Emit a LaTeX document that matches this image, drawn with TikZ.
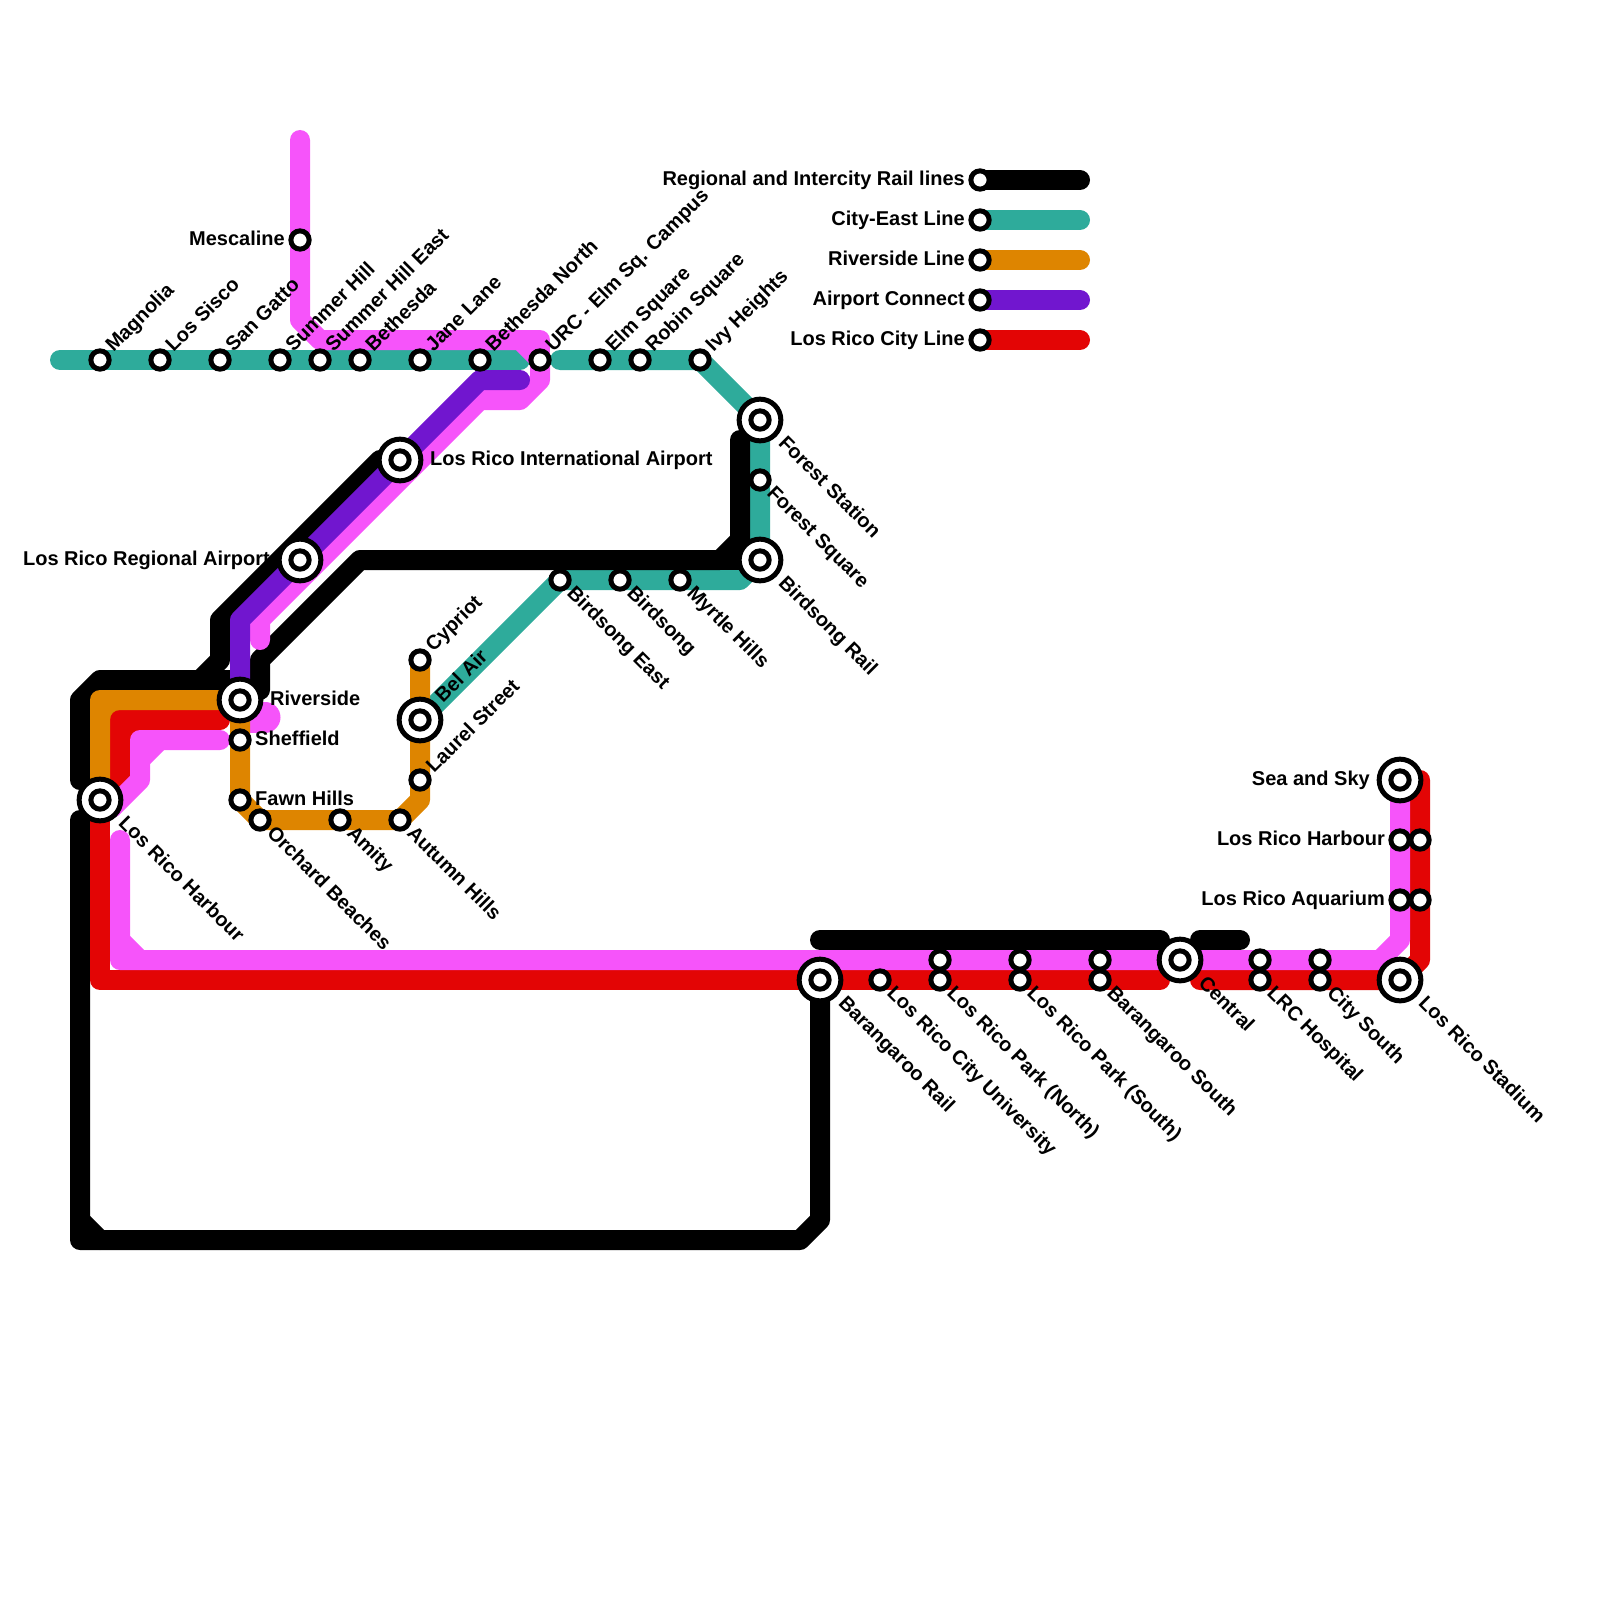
\documentclass[tikz,border=0pt]{standalone}
\usepackage{fontspec}
\setmainfont{Liberation Sans}[BoldFont={Liberation Sans Bold}]
\usetikzlibrary{backgrounds}
\definecolor{cteal}{HTML}{2EAB9B}
\definecolor{corange}{HTML}{DE8500}
\definecolor{cpurple}{HTML}{7116CF}
\definecolor{cred}{HTML}{E30505}
\definecolor{cmag}{HTML}{F654FA}
\pgfdeclarelayer{lines}
\pgfsetlayers{lines,main}
\tikzset{
  x=1pt,y=-1pt,
  route/.style={line width=20pt,line cap=round,line join=round},
  stn/.style={circle,draw=black,fill=white,line width=5pt,minimum size=18.3pt,inner sep=0pt,outer sep=0pt},
  bigstn/.style={circle,draw=black,fill=white,line width=5pt,minimum size=41.7pt,inner sep=0pt,outer sep=0pt},
  lbl/.style={font=\fontsize{20}{22}\selectfont\bfseries,inner sep=0pt,text=black},
  lblE/.style={lbl,anchor=base west},
  lblW/.style={lbl,anchor=base east},
  lblNE/.style={lbl,anchor=base west,rotate=45},
  lblSE/.style={lbl,anchor=base west,rotate=-45},
}
\begin{document}
\begin{tikzpicture}
\useasboundingbox (0,0) rectangle (1600,1600);
% labels under the stations
\node[lblW] (tA) at (965,185) {Regional and Intercity Rail lines};
\node[lblW] (tB) at (965,225) {City-East Line};
\node[lblW] (tC) at (965,265) {Riverside Line};
\node[lblW] (tD) at (965,305) {Airport Connect};
\node[lblW] (tE) at (965,345) {Los Rico City Line};
\node[lblW] (tMes) at (285,245) {Mescaline};
\node[lblW] (tReg) at (270,565) {Los Rico Regional Airport};
\node[lblE] (tAir) at (430,465) {Los Rico International Airport};
\node[lblE] (tRiv) at (270,705) {Riverside};
\node[lblE] (tShe) at (255,745) {Sheffield};
\node[lblE] (tFaw) at (255,805) {Fawn Hills};
\node[lblW] (tSea) at (1370,785) {Sea and Sky};
\node[lblW] (tHar) at (1385,845) {Los Rico Harbour};
\node[lblW] (tAqu) at (1385,905) {Los Rico Aquarium};
% outer rings of interchange stations
\node[bigstn] (bairport) at (400,460) {};
\node[bigstn] (bregional) at (300,560) {};
\node[bigstn] (briverside) at (240,700) {};
\node[bigstn] (bbelair) at (420,720) {};
\node[bigstn] (bharbour) at (100,800) {};
\node[bigstn] (bforest) at (760,420) {};
\node[bigstn] (bbirdrail) at (760,560) {};
\node[bigstn] (bbararail) at (820,980) {};
\node[bigstn] (bcentral) at (1180,960) {};
\node[bigstn] (bseasky) at (1400,780) {};
\node[bigstn] (bstadium) at (1400,980) {};
% stations
\foreach \n/\p in {airport/{400,460},regional/{300,560},riverside/{240,700},belair/{420,720},harbour/{100,800},forest/{760,420},birdrail/{760,560},bararail/{820,980},central/{1180,960},seasky/{1400,780},stadium/{1400,980},
 magnolia/{100,360},sisco/{160,360},gatto/{220,360},summer/{280,360},summereast/{320,360},bethesda/{360,360},jane/{420,360},bethnorth/{480,360},urc/{540,360},elm/{600,360},robin/{640,360},ivy/{700,360},
 mescaline/{300,240},cypriot/{420,660},laurel/{420,780},autumn/{400,820},amity/{340,820},orchard/{260,820},fawn/{240,800},sheffield/{240,740},
 birdeast/{560,580},birdsong/{620,580},myrtle/{680,580},fsquare/{760,480},
 city/{880,980},parkNa/{940,960},parkNb/{940,980},parkSa/{1020,960},parkSb/{1020,980},barsa/{1100,960},barsb/{1100,980},
 lrca/{1260,960},lrcb/{1260,980},cityso/{1320,960},citysb/{1320,980},
 harba/{1400,840},harbb/{1420,840},aqua/{1400,900},aqub/{1420,900},
 legA/{980,180},legB/{980,220},legC/{980,260},legD/{980,300},legE/{980,340}}
 {\node[stn] (\n) at (\p) {};}
% free line ends
\coordinate (tealW) at (60,360);
\coordinate (tealE) at (520,360);
\coordinate (tealS) at (560,360);
\coordinate (magN) at (300,140);
\coordinate (magStub) at (260,640);
\coordinate (magLow) at (120,840);
\coordinate (magUp) at (112,808);
\coordinate (magEnd) at (220,740);
\coordinate (redEnd) at (220,720);
\coordinate (redL) at (1160,980);
\coordinate (redR) at (1200,980);
\coordinate (purE) at (520,380);
\coordinate (blkA) at (80,780);
\coordinate (blkB) at (80,820);
\coordinate (blkC) at (820,940);
\coordinate (blkD) at (1160,940);
\coordinate (blkE) at (1200,940);
\coordinate (blkF) at (1240,940);
\coordinate (blkG) at (740,440);
\coordinate (legAe) at (1080,180);
\coordinate (legBe) at (1080,220);
\coordinate (legCe) at (1080,260);
\coordinate (legDe) at (1080,300);
\coordinate (legEe) at (1080,340);
\begin{pgfonlayer}{lines}
% teal
\draw[route,cteal] (tealW) -- (tealE);
\draw[route,cteal] (tealS) -- (ivy.center) -- (forest.center) -- (birdrail.center) -- (740,580) -- (birdeast.center) -- (belair.center);
% black
\fill[black] (85,685) rectangle (100,700);
\draw[route,black] (blkA) -- (80,700) -- (100,680) -- (200,680) -- (220,660) -- (220,620) -- (380,460);
\draw[route,black] (200,680) -- (240,680);
\draw[route,black] (260,690) -- (260,660) -- (360,560) -- (720,560) -- (740,540) -- (blkG);
\draw[route,black] (720,560) -- (birdrail.center);
\draw[route,black] (blkB) -- (80,1240) -- (800,1240) -- (820,1220) -- (bararail.center);
\draw[route,black] (80,1220) -- (100,1240);
\draw[route,black] (blkC) -- (blkD);
\draw[route,black] (blkE) -- (blkF);
% orange behind the red corner
\fill[corange] (105,705) rectangle (120,720);
% red
\draw[route,cred] (harbour.center) -- (100,980) -- (redL);
\draw[route,cred] (harbour.center) -- (120,780) -- (120,720) -- (redEnd);
\draw[route,cred] (redR) -- (stadium.center) -- (1420,960) -- (1420,780) -- (seasky.center);
\fill[cred] (125,725) rectangle (140,740);
% magenta
\draw[route,cmag] (magN) -- (300,320) -- (320,340) -- (520,340) -- (540,360) -- (540,380) -- (520,400) -- (480,400) -- (260,620) -- (magStub);
\draw[route,cmag] (520,340) -- (540,340) -- (540,360);
\draw[route,cmag] (magUp) -- (140,780) -- (140,740) -- (magEnd);
\draw[route,cmag] (140,760) -- (160,740);
\draw[route,cmag] (magLow) -- (120,960) -- (1380,960) -- (1400,940) -- (seasky.center);
\draw[route,cmag] (120,940) -- (140,960);
\draw[route,cmag,line width=31pt] (riverside.center) ++(5,17) -- (265,717);
% purple
\draw[route,cpurple] (riverside.center) -- (240,620) -- (480,380) -- (purE);
% orange
\draw[route,corange] (harbour.center) -- (100,700) -- (riverside.center) -- (fawn.center) -- (orchard.center) -- (autumn.center) -- (420,800) -- (cypriot.center);
% legend
\draw[route,black] (legA.center) -- (legAe);
\draw[route,cteal] (legB.center) -- (legBe);
\draw[route,corange] (legC.center) -- (legCe);
\draw[route,cpurple] (legD.center) -- (legDe);
\draw[route,cred] (legE.center) -- (legEe);
\end{pgfonlayer}
% labels
\node[lblNE] (nMag) at (113.5,353) {Magnolia};
\node[lblNE] (nSis) at (173.5,353) {Los Sisco};
\node[lblNE] (nGat) at (233.5,353) {San Gatto};
\node[lblNE] (nSum) at (293.5,353) {Summer Hill};
\node[lblNE] (nSue) at (333.5,353) {Summer Hill East};
\node[lblNE] (nBet) at (373.5,353) {Bethesda};
\node[lblNE] (nJan) at (433.5,353) {Jane Lane};
\node[lblNE] (nBen) at (493.5,353) {Bethesda North};
\node[lblNE] (nUrc) at (553.5,353) {URC - Elm Sq. Campus};
\node[lblNE] (nElm) at (613.5,353) {Elm Square};
\node[lblNE] (nRob) at (653.5,353) {Robin Square};
\node[lblNE] (nIvy) at (713.5,353) {Ivy Heights};
\node[lblNE] (nCyp) at (433.5,653) {Cypriot};
\node[lblNE] (nBel) at (443,704) {Bel Air};
\node[lblNE] (nLau) at (434,774) {Laurel Street};
\node[lblSE] (sHar) at (117.5,824) {Los Rico Harbour};
\node[lblSE] (sOrc) at (266,834) {Orchard Beaches};
\node[lblSE] (sAmi) at (346,834) {Amity};
\node[lblSE] (sAut) at (406,834) {Autumn Hills};
\node[lblSE] (sBie) at (566,594) {Birdsong East};
\node[lblSE] (sBir) at (626,594) {Birdsong};
\node[lblSE] (sMyr) at (686,594) {Myrtle Hills};
\node[lblSE] (sFos) at (777.5,444) {Forest Station};
\node[lblSE] (sFoq) at (766,494) {Forest Square};
\node[lblSE] (sBra) at (777.5,584) {Birdsong Rail};
\node[lblSE] (sBar) at (837.5,1004) {Barangaroo Rail};
\node[lblSE] (sCit) at (886,994) {Los Rico City University};
\node[lblSE] (sPan) at (946,994) {Los Rico Park (North)};
\node[lblSE] (sPas) at (1026,994) {Los Rico Park (South)};
\node[lblSE] (sBas) at (1106,994) {Barangaroo South};
\node[lblSE] (sCen) at (1197.5,984) {Central};
\node[lblSE] (sLrc) at (1266,994) {LRC Hospital};
\node[lblSE] (sCso) at (1326,994) {City South};
\node[lblSE] (sSta) at (1417.5,1004) {Los Rico Stadium};
\end{tikzpicture}
\end{document}
